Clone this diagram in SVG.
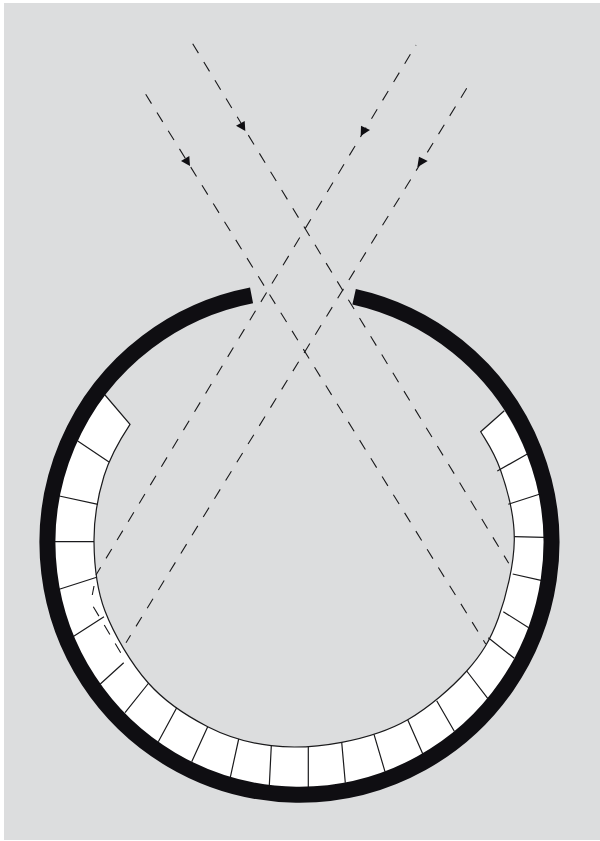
<svg xmlns="http://www.w3.org/2000/svg" width="600" height="841" viewBox="0 0 600 841">
<style>
.ring{fill:none;stroke:#0f0e12;stroke-width:16}
.band{fill:#fff}
.edge{fill:none;stroke:#1a1a1c;stroke-width:1.2}
.tick{fill:none;stroke:#1a1a1c;stroke-width:1.2}
.ray{fill:none;stroke:#1a1a1c;stroke-width:1.1;stroke-dasharray:11 10.4}
.head{fill:#0f0e12}
</style>
<rect x="0" y="0" width="600" height="841" fill="#fff"/>
<rect x="4" y="3" width="596" height="837" fill="#dcddde"/>
<g id="band">
<path class="band" d="M130 424.3C119 441 110 456.4 104 476C98 495.6 93.8 519.2 94 541.7C94.2 564.2 96 587.5 105 611C114 634.5 131.2 663.7 148.3 683C165.4 702.3 187.2 716.2 207.7 726.7C228.2 737.2 249 743.1 271.3 745.7C293.6 748.3 319 746.6 341.7 742.3C364.4 738 386.9 731.6 407.7 719.7C428.5 707.8 451.6 687.9 466.7 671C481.8 654.1 490.4 640.1 498.3 618.3C506.2 596.5 514 564.7 514.3 540C514.6 515 507 488.5 500.5 470C494 451.5 487.9 443.7 480.7 431.7L504.3 410.7A245 245 0 1 1 105 395Z"/>
<path class="edge" d="M105 395L130 424.3C119 441 110 456.4 104 476C98 495.6 93.8 519.2 94 541.7C94.2 564.2 96 587.5 105 611C114 634.5 131.2 663.7 148.3 683C165.4 702.3 187.2 716.2 207.7 726.7C228.2 737.2 249 743.1 271.3 745.7C293.6 748.3 319 746.6 341.7 742.3C364.4 738 386.9 731.6 407.7 719.7C428.5 707.8 451.6 687.9 466.7 671C481.8 654.1 490.4 640.1 498.3 618.3C506.2 596.5 514 564.7 514.3 540C514.6 515 507 488.5 500.5 470C494 451.5 487.9 443.7 480.7 431.7L504.3 410.7"/>
<path class="tick" d="M77.7 441L109 462M59.3 496L98 504.3M55 541.7H94M59.3 589.3L96.7 577.3M73.7 636.3L104 616.7M100.3 684L123.7 662.7M125 712.7L148.7 683M158.3 741.7L176.7 707.7M191.7 761.7L207.7 726.7M230.3 777.3L238.7 739M269.3 785.7L271.3 745.7M308.3 787V746.7M345.3 782.7L341.7 742.3M385 771.7L374 734.3M422.7 753.7L407.7 719.7M454.3 731.3L436.7 700.7M487.7 698.3L466.7 671M514.3 658.3L488.3 637.7M528.7 627.7L503.3 611.7M541 580.3L512.7 574M544 537.3L514.3 536.7M539.3 494.3L508.3 504.3M527.3 454L497.3 471"/>
</g>
<g id="ring">
<path class="ring" d="M251.55 295.3A252 252 0 1 0 354.1 296.7"/>
</g>
<g id="connectors">
<path class="ray" d="M192.7 43.7L508.7 563.3"/>
<path class="ray" d="M145.7 94.3L485.7 644"/>
<path class="ray" stroke-dashoffset="10.5" d="M416 45L96 575"/>
<path class="ray" d="M94 586L92.3 595"/>
<path class="ray" d="M93.3 606.7L120.7 652.7"/>
<path class="ray" d="M466.7 88.3L126 642.7"/>
<polygon class="head" points="236,125.7 244.7,121 245.3,131"/>
<polygon class="head" points="181,161 189.3,156 190,166"/>
<polygon class="head" points="361,125.7 370,130 360.7,136"/>
<polygon class="head" points="419,156.7 427.7,161 417.3,167.3"/>
</g>
</svg>
